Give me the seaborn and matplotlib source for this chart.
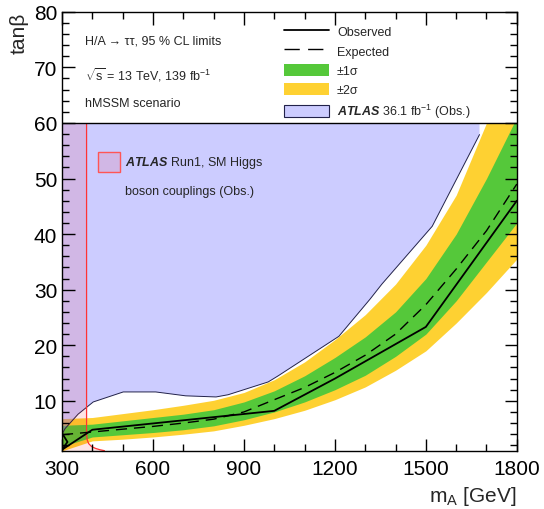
import numpy as np
import pandas as pd
import matplotlib
matplotlib.use("Agg")
import matplotlib.pyplot as plt
import seaborn as sns
from matplotlib.patches import Rectangle, Patch
from matplotlib.lines import Line2D

# ---------------- data ----------------
mass = [300, 400, 500, 600, 700, 800, 900, 1000, 1100, 1200, 1300, 1400, 1500, 1600, 1700, 1800]
exp_tb = [3.9, 4.4, 4.9, 5.4, 6.0, 6.7, 8.0, 10.2, 12.4, 15.1, 18.2, 22.0, 27.3, 33.7, 40.6, 49.0]
p1_tb = [5.6, 5.8, 6.4, 7.0, 7.6, 8.4, 9.8, 11.8, 14.5, 17.8, 21.5, 26.0, 32.0, 40.0, 50.0, 61.0]
m1_tb = [1.8, 3.5, 3.9, 4.3, 4.8, 5.5, 6.6, 8.0, 9.8, 12.0, 14.6, 18.0, 22.0, 28.0, 35.0, 42.0]
p2_tb = [6.8, 7.0, 7.7, 8.4, 9.2, 10.1, 11.5, 13.8, 17.0, 21.0, 25.5, 31.0, 38.0, 47.0, 60.0, 72.0]
m2_tb = [1.0, 2.8, 3.1, 3.5, 4.0, 4.6, 5.6, 6.8, 8.3, 10.2, 12.5, 15.5, 19.0, 24.0, 29.5, 35.5]

obs_m = [300, 318, 300, 400, 1000, 1200, 1500, 1800]
obs_tb = [4.2, 2.6, 1.2, 4.8, 8.2, 14.0, 23.3, 46.0]

# ATLAS 36.1 fb-1 observed exclusion (region above contour)
blue_m = [300, 1677, 1677, 1521, 1355, 1316, 1213, 1013, 980, 848, 808, 708, 609, 502, 403, 353, 310, 300]
blue_tb = [60, 60, 57.9, 41.4, 31.0, 28.3, 21.6, 14.5, 13.4, 11.1, 10.7, 10.9, 11.6, 11.6, 9.8, 7.6, 5.0, 4.0]

# ATLAS Run1 SM Higgs couplings exclusion contour
run1_m = [381, 381, 383, 388, 397, 410, 425, 440]
run1_tb = [60, 4.0, 3.0, 2.3, 1.8, 1.45, 1.2, 1.03]

# ---------------- style ----------------
sns.set_style("ticks")
plt.rcParams['font.family'] = ['Liberation Sans', 'DejaVu Sans']
plt.rcParams['mathtext.fontset'] = 'custom'
plt.rcParams['mathtext.rm'] = 'Liberation Sans'
plt.rcParams['mathtext.it'] = 'Liberation Sans:italic'
plt.rcParams['mathtext.bf'] = 'Liberation Sans:bold'
plt.rcParams['mathtext.bfit'] = 'Liberation Sans:italic:bold'
plt.rcParams['xtick.color'] = 'black'
plt.rcParams['ytick.color'] = 'black'

YELLOW = '#fed132'
GREEN = '#55c83a'
BLUE_FC = (0.5, 0.5, 1.0, 0.4)
BLUE_EC = '#22224a'
RED_FC = (1.0, 0.0, 0.0, 0.10)

fig = plt.figure(figsize=(5.44, 5.10), dpi=100)
ax = fig.add_axes([0.114, 0.114, 0.836, 0.861])

ax.fill_between(mass, m2_tb, p2_tb, color=YELLOW, lw=0, zorder=1)
ax.fill_between(mass, m1_tb, p1_tb, color=GREEN, lw=0, zorder=1.1)

ax.fill(blue_m, blue_tb, facecolor=BLUE_FC, edgecolor='none', zorder=2)
ax.plot(blue_m[2:], blue_tb[2:], color=BLUE_EC, lw=0.7, zorder=2.1)

red_poly_m = [300] + run1_m + [300]
red_poly_tb = [60] + run1_tb + [1.0]
ax.fill(red_poly_m, red_poly_tb, facecolor=RED_FC, edgecolor='none', zorder=2.2)
ax.plot(run1_m, run1_tb, color='#ff3333', lw=0.9, zorder=2.3)

df_exp = pd.DataFrame({'m': mass, 'tb': exp_tb})
df_obs = pd.DataFrame({'m': obs_m, 'tb': obs_tb})
sns.lineplot(data=df_exp, x='m', y='tb', ax=ax, color='black', lw=1.0,
             sort=False, estimator=None, zorder=3)
ax.lines[-1].set_dashes([8, 5])
sns.lineplot(data=df_obs, x='m', y='tb', ax=ax, color='black', lw=1.3,
             sort=False, estimator=None, zorder=3.1)

# legend area
ax.add_patch(Rectangle((300, 60), 1500, 20, facecolor='white', edgecolor='none', zorder=4))
ax.axhline(60, color='black', lw=1.0, zorder=4.1)

ax.set_xlim(300, 1800)
ax.set_ylim(1, 80)
ax.set_xticks([300, 600, 900, 1200, 1500, 1800])
ax.set_xticks(np.arange(300, 1801, 100), minor=True)
ax.set_yticks([10, 20, 30, 40, 50, 60, 70, 80])
ax.set_yticks(np.arange(2, 81, 2), minor=True)
ax.tick_params(which='both', direction='in', top=True, right=True, width=1.0,
               labelsize=15, color='black')
ax.tick_params(which='major', length=9)
ax.tick_params(which='minor', length=5)
ax.tick_params(axis='x', which='major', pad=6)
ax.xaxis.set_zorder(7)
ax.yaxis.set_zorder(7)
for s in ax.spines.values():
    s.set_linewidth(1.0)
    s.set_color('black')
    s.set_zorder(8)

ax.set_xlabel(r'm$_{\mathrm{A}}$ [GeV]', fontsize=15, loc='right')
ax.set_ylabel('tanβ', fontsize=15, loc='top')

# texts
tr = ax.transAxes
ax.text(0.05, 0.934, 'H/A → ττ, 95 % CL limits', transform=tr, fontsize=9, va='center', zorder=5)
ax.text(0.05, 0.859, r'$\sqrt{\mathrm{s}}$ = 13 TeV, 139 fb$^{-1}$', transform=tr, fontsize=9, va='center', zorder=5)
ax.text(0.05, 0.793, 'hMSSM scenario', transform=tr, fontsize=9, va='center', zorder=5)

ax.add_patch(Rectangle((0.079, 0.636), 0.048, 0.045, transform=tr, facecolor=RED_FC,
                       edgecolor='#ff5555', lw=1.0, zorder=5))
ax.text(0.138, 0.658, r'$\mathbfit{ATLAS}$ Run1, SM Higgs', transform=tr, fontsize=9, va='center', zorder=5)
ax.text(0.138, 0.592, 'boson couplings (Obs.)', transform=tr, fontsize=9, va='center', zorder=5)

handles = [
    Line2D([], [], color='black', lw=1.3),
    Line2D([], [], color='black', lw=1.0, dashes=[11, 6]),
    Patch(facecolor=GREEN, edgecolor='none'),
    Patch(facecolor=YELLOW, edgecolor='none'),
    Patch(facecolor='#ccccff', edgecolor=BLUE_EC, lw=0.8),
]
labels = ['Observed', 'Expected', '±1σ', '±2σ', r'$\mathbfit{ATLAS}$ 36.1 fb$^{-1}$ (Obs.)']
leg = ax.legend(handles, labels, loc='upper left', bbox_to_anchor=(0.478, 0.981),
                frameon=False, fontsize=9, handlelength=3.6, handleheight=1.1,
                labelspacing=0.48, handletextpad=0.6, borderaxespad=0)
leg.set_zorder(9)

fig.savefig('out.png', dpi=100)
